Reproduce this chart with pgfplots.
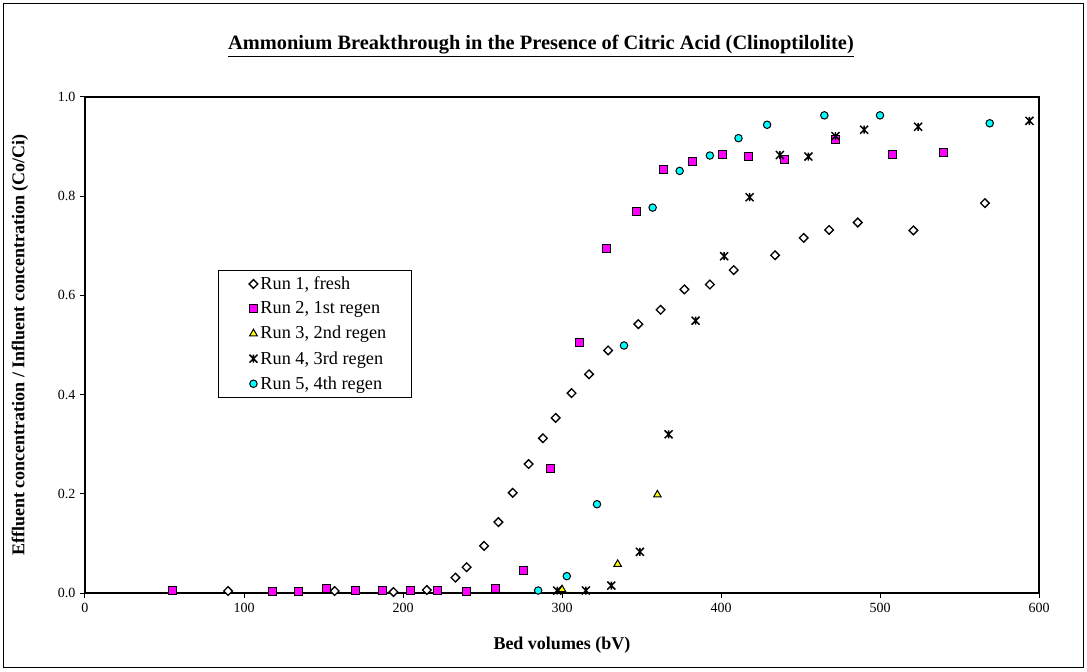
\documentclass[border=0pt]{standalone}
\usepackage{fontspec}
\setmainfont{Liberation Serif}
\usepackage{pgfplots}
\pgfplotsset{compat=1.18}

\definecolor{runmag}{RGB}{255,0,255}
\definecolor{runyel}{RGB}{255,255,0}
\definecolor{runcya}{RGB}{0,255,255}

% Excel-style star: an x with a vertical bar
\pgfdeclareplotmark{xstar}{%
  \pgfpathmoveto{\pgfqpoint{-\pgfplotmarksize}{-\pgfplotmarksize}}%
  \pgfpathlineto{\pgfqpoint{\pgfplotmarksize}{\pgfplotmarksize}}%
  \pgfpathmoveto{\pgfqpoint{-\pgfplotmarksize}{\pgfplotmarksize}}%
  \pgfpathlineto{\pgfqpoint{\pgfplotmarksize}{-\pgfplotmarksize}}%
  \pgfpathmoveto{\pgfqpoint{0pt}{-\pgfplotmarksize}}%
  \pgfpathlineto{\pgfqpoint{0pt}{\pgfplotmarksize}}%
  \pgfusepathqstroke}

\begin{document}
\begin{tikzpicture}
\path[use as bounding box] (-63.75pt,-58.5pt) rectangle (751.5pt,444.75pt);
\draw[line width=0.75pt] (-60.75pt,-55.5pt) rectangle (748.5pt,441.75pt);
\begin{axis}[
  scale only axis, width=715.5pt, height=372pt,
  xmin=0, xmax=600, ymin=0, ymax=1,
  xtick={0,100,...,600}, ytick={0,0.2,0.4,0.6,0.8,1.0},
  clip=false,
  axis line style={line width=0.9pt},
  tick align=outside, tick pos=left,
  major tick length=3.75pt,
  tick style={black, line width=0.75pt},
  /pgf/number format/assume math mode=true,
  ticklabel style={font=\fontsize{10.5}{12}\selectfont},
  yticklabel style={/pgf/number format/.cd, fixed, fixed zerofill, precision=1},
  xticklabel style={/pgf/number format/.cd, fixed},
  title={\underline{Ammonium Breakthrough in the Presence of Citric Acid (Clinoptilolite)}},
  title style={at={(axis description cs:0.478,1.087)}, anchor=center, yshift=0pt,
    font=\bfseries\fontsize{15.3}{18}\selectfont},
  xlabel={Bed volumes (bV)},
  xlabel style={at={(axis description cs:0.5,-0.1048)}, anchor=center,
    font=\bfseries\fontsize{13.5}{16}\selectfont},
  ylabel={Effluent concentration / Influent concentration (Co/Ci)},
  ylabel style={at={(axis description cs:-0.0681,0.5)}, anchor=center, rotate=0,
    font=\bfseries\fontsize{13.5}{16}\selectfont},
  legend cell align=left,
  legend style={at={(axis description cs:0.1394,0.651)}, anchor=north west,
    draw=black, line width=0.6pt, font=\fontsize{13.7}{16}\selectfont,
    inner xsep=16.5pt, inner ysep=2.5pt, row sep=3.8pt},
  only marks,
  legend image code/.code={\path (-9.5pt,0pt) (2.5pt,0pt); \draw[#1] plot coordinates {(0pt,0pt)};},
]
\addplot[only marks, mark=square*, mark size=2.3pt,
  mark options={rotate=45, fill=white, draw=black, line width=1pt}] coordinates {
  (90,0.004) (157,0.004) (194,0.002) (215,0.006) (233,0.031) (240,0.052)
  (251,0.095) (260,0.143) (269,0.202) (279,0.260) (288,0.312) (296,0.353)
  (306,0.403) (317,0.441) (329,0.489) (348,0.542) (362,0.571) (377,0.612)
  (393,0.622) (408,0.651) (434,0.681) (452,0.716) (468,0.732) (486,0.747)
  (521,0.731) (566,0.786)};
\addlegendentry{Run 1, fresh}
\addplot[only marks, mark=square*, mark size=3pt,
  mark options={fill=runmag, draw=black, line width=0.75pt}] coordinates {
  (55,0.005) (118,0.004) (134,0.004) (152,0.009) (170,0.006) (187,0.005)
  (205,0.005) (222,0.005) (240,0.003) (258,0.009) (276,0.046) (293,0.251)
  (311,0.505) (328,0.695) (347,0.769) (364,0.853) (382,0.870) (401,0.884)
  (417,0.881) (440,0.873) (472,0.915) (508,0.884) (540,0.888)};
\addlegendentry{Run 2, 1st regen}
\addplot[only marks, mark=triangle*, mark size=3.3pt,
  mark options={fill=runyel, draw=black, line width=0.75pt}] coordinates {
  (300,0.007) (335,0.058) (360,0.198)};
\addlegendentry{Run 3, 2nd regen}
\addplot[only marks, mark=xstar, mark size=3pt,
  mark options={draw=black, line width=1.1pt}] coordinates {
  (297,0.005) (315,0.005) (331,0.015) (349,0.083) (367,0.320) (384,0.549)
  (402,0.679) (418,0.798) (437,0.883) (455,0.880) (472,0.921) (490,0.934)
  (524,0.940) (594,0.952)};
\addlegendentry{Run 4, 3rd regen}
\addplot[only marks, mark=*, mark size=2.8pt,
  mark options={fill=runcya, draw=black, line width=0.75pt}] coordinates {
  (285,0.005) (303,0.034) (322,0.179) (339,0.499) (357,0.777) (374,0.851)
  (393,0.882) (411,0.917) (429,0.944) (465,0.963) (500,0.963) (569,0.947)};
\addlegendentry{Run 5, 4th regen}
\end{axis}
\end{tikzpicture}
\end{document}
